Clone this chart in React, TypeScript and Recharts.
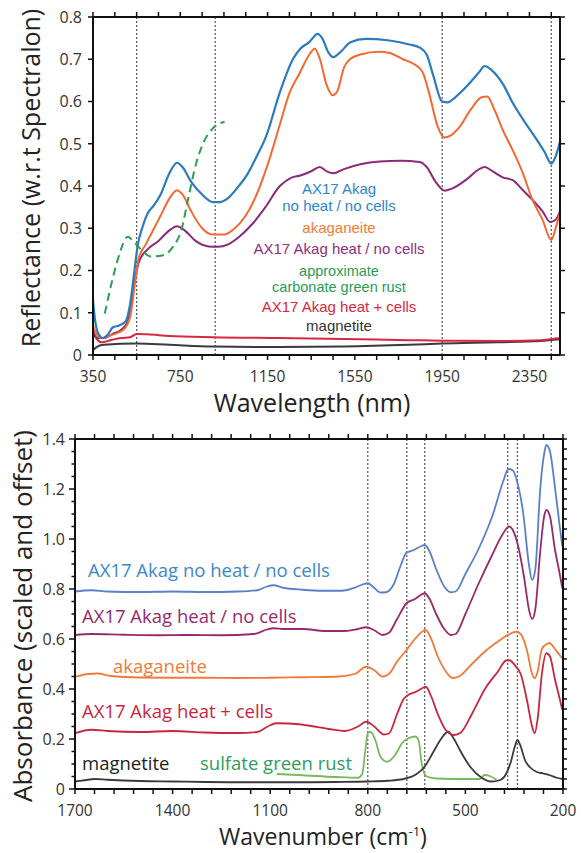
import React from "react"
import { LineChart, Line, XAxis, YAxis, ReferenceLine } from "recharts"

const FONT = "'Open Sans', 'Noto Sans', sans-serif"
const NOTE_FONT = "'Liberation Sans', Arial, sans-serif"
const INK = "#333333"
const SPINE = "#111111"

// ── Reflectance panel (wavelength nm, reflectance) ───────────────────────────

const reflNoHeatNoCells: [number, number][] = [
  [350, 0.13], [360, 0.08], [375, 0.05], [395, 0.04], [420, 0.05], [440, 0.065],
  [470, 0.07], [500, 0.08], [520, 0.12], [540, 0.2], [555, 0.26], [575, 0.3],
  [600, 0.335], [630, 0.355], [660, 0.38], [700, 0.43], [735, 0.455], [760, 0.445],
  [800, 0.41], [850, 0.38], [900, 0.362], [930, 0.362], [970, 0.372], [1010, 0.395],
  [1060, 0.43], [1100, 0.47], [1145, 0.52], [1205, 0.62], [1266, 0.7], [1300, 0.725],
  [1340, 0.74], [1380, 0.76], [1400, 0.75], [1430, 0.715], [1450, 0.705], [1480, 0.715],
  [1530, 0.74], [1600, 0.748], [1700, 0.745], [1800, 0.735], [1850, 0.727], [1880, 0.71],
  [1910, 0.66], [1950, 0.6], [1975, 0.598], [2010, 0.61], [2070, 0.64], [2120, 0.67],
  [2145, 0.684], [2175, 0.675], [2230, 0.64], [2270, 0.6], [2330, 0.55], [2370, 0.52],
  [2420, 0.48], [2450, 0.453], [2470, 0.47], [2490, 0.505]
]

const reflAkaganeite: [number, number][] = [
  [350, 0.07], [365, 0.05], [390, 0.04], [420, 0.045], [450, 0.05], [490, 0.06],
  [520, 0.09], [545, 0.18], [560, 0.23], [590, 0.26], [620, 0.29], [660, 0.33],
  [700, 0.37], [735, 0.39], [760, 0.38], [800, 0.34], [850, 0.3], [900, 0.285],
  [950, 0.285], [1000, 0.3], [1050, 0.33], [1100, 0.38], [1150, 0.45], [1206, 0.545],
  [1250, 0.62], [1297, 0.667], [1340, 0.71], [1366, 0.725], [1390, 0.7], [1420, 0.64],
  [1448, 0.615], [1470, 0.625], [1500, 0.68], [1527, 0.7], [1580, 0.712], [1660, 0.718],
  [1710, 0.715], [1770, 0.7], [1816, 0.69], [1860, 0.67], [1890, 0.62], [1930, 0.54],
  [1960, 0.515], [1990, 0.52], [2030, 0.54], [2080, 0.58], [2130, 0.61], [2156, 0.612],
  [2190, 0.58], [2230, 0.53], [2273, 0.485], [2320, 0.43], [2364, 0.367], [2410, 0.32],
  [2450, 0.272], [2470, 0.3], [2490, 0.336]
]

const reflHeatNoCells: [number, number][] = [
  [350, 0.05], [370, 0.04], [400, 0.04], [440, 0.05], [480, 0.06], [510, 0.08],
  [540, 0.17], [560, 0.22], [600, 0.25], [650, 0.27], [700, 0.295], [735, 0.305],
  [770, 0.295], [820, 0.27], [880, 0.257], [920, 0.256], [970, 0.262], [1020, 0.28],
  [1080, 0.31], [1140, 0.35], [1206, 0.4], [1260, 0.42], [1300, 0.425], [1350, 0.435],
  [1389, 0.445], [1420, 0.435], [1450, 0.43], [1500, 0.44], [1580, 0.452], [1664, 0.458],
  [1760, 0.46], [1847, 0.457], [1879, 0.445], [1920, 0.41], [1962, 0.389], [2000, 0.395],
  [2060, 0.415], [2120, 0.44], [2145, 0.445], [2180, 0.435], [2230, 0.42], [2273, 0.414],
  [2320, 0.39], [2364, 0.367], [2410, 0.34], [2445, 0.315], [2470, 0.32], [2490, 0.34]
]

const reflGreenRust: [number, number][] = [
  [404, 0.098], [442, 0.185], [472, 0.24], [495, 0.272], [510, 0.28], [530, 0.272],
  [564, 0.253], [617, 0.233], [671, 0.236], [716, 0.256], [755, 0.296], [785, 0.367],
  [823, 0.454], [854, 0.5], [900, 0.537], [953, 0.552]
]

const reflHeatCells: [number, number][] = [
  [350, 0.06], [365, 0.04], [390, 0.03], [430, 0.035], [480, 0.04], [520, 0.042],
  [550, 0.05], [600, 0.049], [700, 0.045], [900, 0.042], [1200, 0.04], [1500, 0.038],
  [1800, 0.035], [1950, 0.034], [2200, 0.033], [2400, 0.035], [2490, 0.04]
]

const reflMagnetite: [number, number][] = [
  [350, 0.012], [370, 0.02], [400, 0.024], [550, 0.027], [700, 0.024], [900, 0.02],
  [1200, 0.019], [1500, 0.02], [1800, 0.024], [1950, 0.027], [2200, 0.03], [2400, 0.033],
  [2490, 0.037]
]

const reflDashLines = [550, 910, 1950, 2450]
const reflXLabels = [350, 750, 1150, 1550, 1950, 2350]

// ── Absorbance panel (wavenumber cm-1, absorbance) ───────────────────────────

const absNoHeatNoCells: [number, number][] = [
  [1700, 0.79], [1650, 0.795], [1600, 0.79], [1500, 0.788], [1400, 0.79], [1300, 0.788],
  [1200, 0.79], [1140, 0.795], [1110, 0.81], [1090, 0.815], [1060, 0.805], [1000, 0.797],
  [940, 0.793], [880, 0.793], [840, 0.805], [812, 0.82], [800, 0.823], [785, 0.81],
  [760, 0.786], [745, 0.787], [720, 0.82], [700, 0.89], [681, 0.945], [660, 0.955],
  [635, 0.972], [625, 0.976], [610, 0.95], [590, 0.88], [565, 0.81], [545, 0.787],
  [530, 0.79], [500, 0.86], [456, 0.97], [415, 1.1], [384, 1.23], [368, 1.28],
  [355, 1.275], [340, 1.225], [322, 1.1], [305, 0.9], [295, 0.836], [285, 0.88],
  [270, 1.2], [258, 1.34], [251, 1.376], [240, 1.35], [225, 1.21], [210, 1.05], [202, 0.97]
]

const absHeatNoCells: [number, number][] = [
  [1700, 0.616], [1650, 0.62], [1550, 0.617], [1450, 0.615], [1350, 0.616], [1250, 0.615],
  [1150, 0.62], [1110, 0.638], [1090, 0.643], [1060, 0.64], [1000, 0.64], [930, 0.632],
  [870, 0.632], [830, 0.64], [805, 0.647], [780, 0.635], [755, 0.616], [735, 0.625],
  [710, 0.68], [681, 0.743], [655, 0.76], [635, 0.778], [625, 0.783], [610, 0.76],
  [590, 0.7], [565, 0.64], [545, 0.616], [530, 0.62], [500, 0.7], [460, 0.82],
  [420, 0.93], [385, 1.02], [366, 1.05], [352, 1.03], [340, 0.983], [320, 0.85],
  [305, 0.72], [295, 0.68], [285, 0.72], [270, 0.95], [258, 1.09], [251, 1.116],
  [240, 1.09], [225, 0.96], [210, 0.86], [202, 0.803]
]

const absAkaganeite: [number, number][] = [
  [1700, 0.449], [1660, 0.46], [1630, 0.462], [1590, 0.452], [1500, 0.446], [1400, 0.445],
  [1300, 0.445], [1200, 0.444], [1100, 0.445], [1000, 0.447], [900, 0.449], [840, 0.46],
  [805, 0.489], [780, 0.475], [755, 0.45], [735, 0.46], [710, 0.51], [681, 0.556],
  [655, 0.6], [630, 0.632], [622, 0.636], [605, 0.6], [585, 0.53], [560, 0.47],
  [540, 0.444], [520, 0.45], [480, 0.5], [440, 0.55], [400, 0.59], [370, 0.616],
  [345, 0.629], [330, 0.62], [310, 0.55], [295, 0.46], [287, 0.443], [278, 0.47],
  [265, 0.56], [250, 0.58], [241, 0.583], [225, 0.56], [210, 0.535], [202, 0.523]
]

const absHeatCells: [number, number][] = [
  [1700, 0.223], [1650, 0.237], [1600, 0.232], [1500, 0.228], [1400, 0.232], [1300, 0.226],
  [1200, 0.224], [1140, 0.228], [1100, 0.255], [1080, 0.263], [1040, 0.262], [990, 0.255],
  [920, 0.24], [870, 0.232], [830, 0.25], [805, 0.269], [780, 0.25], [750, 0.218],
  [735, 0.222], [710, 0.3], [690, 0.36], [676, 0.376], [650, 0.39], [630, 0.405],
  [622, 0.409], [605, 0.37], [585, 0.3], [560, 0.235], [535, 0.216], [515, 0.225],
  [480, 0.3], [440, 0.4], [400, 0.47], [375, 0.514], [365, 0.515], [345, 0.49],
  [330, 0.46], [310, 0.35], [295, 0.25], [287, 0.223], [278, 0.28], [265, 0.46],
  [251, 0.543], [240, 0.53], [225, 0.44], [210, 0.36], [202, 0.316]
]

const absSulfateGreenRust: [number, number][] = [
  [1080, 0.06], [1000, 0.055], [900, 0.048], [830, 0.045], [817, 0.06], [808, 0.15],
  [800, 0.223], [792, 0.229], [777, 0.196], [761, 0.129], [741, 0.109], [716, 0.136],
  [695, 0.183], [675, 0.203], [654, 0.21], [644, 0.195], [634, 0.1], [619, 0.05],
  [589, 0.042], [500, 0.04], [456, 0.04], [441, 0.056], [425, 0.052], [404, 0.036]
]

const absMagnetite: [number, number][] = [
  [1700, 0.03], [1670, 0.035], [1640, 0.04], [1600, 0.037], [1500, 0.032], [1400, 0.03],
  [1300, 0.028], [1200, 0.027], [1100, 0.027], [1000, 0.027], [900, 0.028], [800, 0.03],
  [740, 0.033], [690, 0.04], [650, 0.06], [625, 0.09], [600, 0.145], [575, 0.2],
  [553, 0.229], [535, 0.2], [517, 0.156], [486, 0.09], [450, 0.045], [420, 0.03],
  [395, 0.035], [375, 0.06], [360, 0.11], [348, 0.17], [340, 0.196], [330, 0.17],
  [317, 0.116], [300, 0.085], [282, 0.069], [260, 0.062], [240, 0.055], [220, 0.045],
  [202, 0.04]
]

const absDashLines = [800, 680, 625, 370, 340]
const absXLabels = [1700, 1400, 1100, 800, 500, 200]

// ── helpers ──────────────────────────────────────────────────────────────────

const toPts = (pairs: [number, number][]) => pairs.map(([x, y]) => ({ x, y }))

const steps = (from: number, to: number, step: number) => {
  const out: number[] = []
  for (let v = from; v <= to + 1e-9; v += step) out.push(Math.round(v * 1000) / 1000)
  return out
}

const isMultiple = (v: number, m: number) => Math.abs(v / m - Math.round(v / m)) < 1e-6

type Side = "left" | "right" | "top" | "bottom"

const makeTick =
  (side: Side, len: (v: number) => number, label?: (v: number) => string | null, gap = 6) =>
  (props: any) => {
    const { x, y, payload } = props
    const v = payload.value as number
    const L = len(v)
    const x2 = side === "left" ? x - L : side === "right" ? x + L : x
    const y2 = side === "top" ? y - L : side === "bottom" ? y + L : y
    const text = label ? label(v) : null
    return (
      <g>
        <line x1={x} y1={y} x2={x2} y2={y2} stroke={SPINE} strokeWidth={1.5} />
        {text != null && side === "left" && (
          <text x={x2 - gap} y={y} dy="0.36em" textAnchor="end" fill={INK} fontSize={16} fontFamily={FONT}>
            {text}
          </text>
        )}
        {text != null && side === "bottom" && (
          <text x={x} y={y2 + gap} textAnchor="middle" fill={INK} fontSize={15.5} fontFamily={FONT}>
            {text}
          </text>
        )}
      </g>
    )
  }

const spine = { stroke: SPINE, strokeWidth: 2 }

const axisBase = {
  type: "number" as const,
  allowDataOverflow: true,
  interval: 0 as const,
  tickSize: 0,
  tickMargin: 0,
  tickLine: false,
  axisLine: spine
}

const dashProps = { stroke: "#555", strokeDasharray: "2 2", strokeWidth: 1.2 }

// ── Panels ───────────────────────────────────────────────────────────────────

const ReflectancePanel = () => {
  const xTicks = steps(350, 2450, 100)
  const yTicks = steps(0, 0.8, 0.1)
  return (
    <LineChart width={581} height={400} margin={{ top: 16, right: 20, bottom: 0, left: 0 }}>
      <XAxis
        {...axisBase}
        xAxisId="b"
        dataKey="x"
        domain={[350, 2490]}
        ticks={xTicks}
        height={45}
        tick={makeTick("bottom", () => 5, (v) => (reflXLabels.includes(v) ? String(v) : null), 22)}
      />
      <XAxis
        {...axisBase}
        xAxisId="t"
        orientation="top"
        dataKey="x"
        domain={[350, 2490]}
        ticks={xTicks}
        height={1}
        tick={makeTick("top", () => 5)}
      />
      <YAxis
        {...axisBase}
        yAxisId="l"
        domain={[0, 0.8]}
        ticks={yTicks}
        width={93}
        tick={makeTick("left", () => 5, (v) => (v === 0 ? "0" : v.toFixed(1)), 6)}
      />
      <YAxis
        {...axisBase}
        yAxisId="r"
        orientation="right"
        domain={[0, 0.8]}
        ticks={yTicks}
        width={1}
        tick={makeTick("right", () => 5)}
      />
      {reflDashLines.map((x) => (
        <ReferenceLine key={x} x={x} xAxisId="b" yAxisId="l" {...dashProps} />
      ))}
      <Line xAxisId="b" yAxisId="l" data={toPts(reflMagnetite)} dataKey="y" type="monotone" stroke="#3a3a3a" strokeWidth={2} dot={false} isAnimationActive={false} />
      <Line xAxisId="b" yAxisId="l" data={toPts(reflHeatCells)} dataKey="y" type="monotone" stroke="#d6283e" strokeWidth={2} dot={false} isAnimationActive={false} />
      <Line xAxisId="b" yAxisId="l" data={toPts(reflHeatNoCells)} dataKey="y" type="monotone" stroke="#8a2a78" strokeWidth={2} dot={false} isAnimationActive={false} />
      <Line xAxisId="b" yAxisId="l" data={toPts(reflAkaganeite)} dataKey="y" type="monotone" stroke="#f26a30" strokeWidth={2} dot={false} isAnimationActive={false} />
      <Line xAxisId="b" yAxisId="l" data={toPts(reflNoHeatNoCells)} dataKey="y" type="monotone" stroke="#2c7bbd" strokeWidth={2.2} dot={false} isAnimationActive={false} />
      <Line xAxisId="b" yAxisId="l" data={toPts(reflGreenRust)} dataKey="y" type="monotone" stroke="#2e9e4e" strokeWidth={2} strokeDasharray="8 5" dot={false} isAnimationActive={false} />
    </LineChart>
  )
}

const AbsorbancePanel = () => {
  const xTicks = steps(200, 1700, 60)
  const yTicks = steps(0, 1.4, 0.05)
  const yTicksRight = steps(0, 1.4, 0.04)
  return (
    <LineChart width={581} height={453} margin={{ top: 38, right: 17, bottom: 0, left: 0 }}>
      <XAxis
        {...axisBase}
        xAxisId="b"
        dataKey="x"
        domain={[200, 1700]}
        reversed
        ticks={xTicks}
        height={64}
        tick={makeTick("bottom", () => 5, (v) => (absXLabels.includes(v) ? String(v) : null), 22)}
      />
      <XAxis
        {...axisBase}
        xAxisId="t"
        orientation="top"
        dataKey="x"
        domain={[200, 1700]}
        reversed
        ticks={xTicks}
        height={1}
        tick={makeTick("top", () => 5)}
      />
      <YAxis
        {...axisBase}
        yAxisId="l"
        domain={[0, 1.4]}
        ticks={yTicks}
        width={75}
        tick={makeTick(
          "left",
          (v) => (isMultiple(v, 0.2) ? 6 : 3.5),
          (v) => (isMultiple(v, 0.2) ? (v === 0 ? "0" : v.toFixed(1)) : null),
          4
        )}
      />
      <YAxis
        {...axisBase}
        yAxisId="r"
        orientation="right"
        domain={[0, 1.4]}
        ticks={yTicksRight}
        width={1}
        tick={makeTick("right", () => 4)}
      />
      {absDashLines.map((x) => (
        <ReferenceLine key={x} x={x} xAxisId="b" yAxisId="l" {...dashProps} />
      ))}
      <Line xAxisId="b" yAxisId="l" data={toPts(absSulfateGreenRust)} dataKey="y" type="monotone" stroke="#7ab85c" strokeWidth={1.8} dot={false} isAnimationActive={false} />
      <Line xAxisId="b" yAxisId="l" data={toPts(absMagnetite)} dataKey="y" type="monotone" stroke="#3a3a3a" strokeWidth={1.8} dot={false} isAnimationActive={false} />
      <Line xAxisId="b" yAxisId="l" data={toPts(absHeatCells)} dataKey="y" type="monotone" stroke="#c8263f" strokeWidth={1.8} dot={false} isAnimationActive={false} />
      <Line xAxisId="b" yAxisId="l" data={toPts(absAkaganeite)} dataKey="y" type="monotone" stroke="#f07a3a" strokeWidth={1.8} dot={false} isAnimationActive={false} />
      <Line xAxisId="b" yAxisId="l" data={toPts(absHeatNoCells)} dataKey="y" type="monotone" stroke="#962a6c" strokeWidth={1.8} dot={false} isAnimationActive={false} />
      <Line xAxisId="b" yAxisId="l" data={toPts(absNoHeatNoCells)} dataKey="y" type="monotone" stroke="#5a80c6" strokeWidth={1.8} dot={false} isAnimationActive={false} />
    </LineChart>
  )
}

// ── Text overlay: axis titles and series annotations ─────────────────────────

const topNotes = [
  { text: "AX17 Akag", y: 194, size: 15, color: "#2e86c8" },
  { text: "no heat / no cells", y: 211, size: 15, color: "#2e86c8" },
  { text: "akaganeite", y: 233, size: 15, color: "#f07b3a" },
  { text: "AX17 Akag heat / no cells", y: 254, size: 15, color: "#8f2c80" },
  { text: "approximate", y: 275.5, size: 14.5, color: "#2a9b55" },
  { text: "carbonate green rust", y: 292, size: 14.5, color: "#2a9b55" },
  { text: "AX17 Akag heat + cells", y: 312, size: 15, color: "#d6283e" },
  { text: "magnetite", y: 331, size: 15, color: "#333333" }
]

const bottomNotes = [
  { text: "AX17 Akag no heat / no cells", x: 88, y: 577, color: "#3d87c9" },
  { text: "AX17 Akag heat / no cells", x: 82, y: 623, color: "#962a6c" },
  { text: "akaganeite", x: 113, y: 673, color: "#f07b3a" },
  { text: "AX17 Akag heat + cells", x: 82, y: 718, color: "#c8263f" },
  { text: "magnetite", x: 82, y: 770, color: "#222222" },
  { text: "sulfate green rust", x: 200, y: 770, color: "#2e9e5a" }
]

const Overlay = () => (
  <svg width={581} height={853} style={{ position: "absolute", left: 0, top: 0, pointerEvents: "none" }} fontFamily={FONT}>
    <text x={30} y={178} transform="rotate(-90 30 178)" textAnchor="middle" dominantBaseline="central" fontSize={25} fill="#222">
      Reflectance (w.r.t Spectralon)
    </text>
    <text x={312} y={412} textAnchor="middle" fontSize={25} fill="#222">
      Wavelength (nm)
    </text>
    <text x={22} y={616} transform="rotate(-90 22 616)" textAnchor="middle" dominantBaseline="central" fontSize={26} fill="#222">
      Absorbance (scaled and offset)
    </text>
    <text x={323} y={845} textAnchor="middle" fontSize={23} fill="#222">
      Wavenumber (cm<tspan dy={-9} fontSize={13}>-1</tspan><tspan dy={9}>)</tspan>
    </text>
    {topNotes.map((n) => (
      <text key={n.text} x={339} y={n.y} textAnchor="middle" fontSize={n.size} fontFamily={NOTE_FONT} fill={n.color}>
        {n.text}
      </text>
    ))}
    {bottomNotes.map((n) => (
      <text key={n.text} x={n.x} y={n.y} fontSize={18.5} fill={n.color}>
        {n.text}
      </text>
    ))}
  </svg>
)

export default function App() {
  return (
    <div style={{ position: "absolute", left: 0, top: 0, width: 581, height: 853, background: "#fff", fontFamily: FONT }}>
      <div style={{ position: "absolute", left: 0, top: 0 }}>
        <ReflectancePanel />
      </div>
      <div style={{ position: "absolute", left: 0, top: 400 }}>
        <AbsorbancePanel />
      </div>
      <Overlay />
    </div>
  )
}
